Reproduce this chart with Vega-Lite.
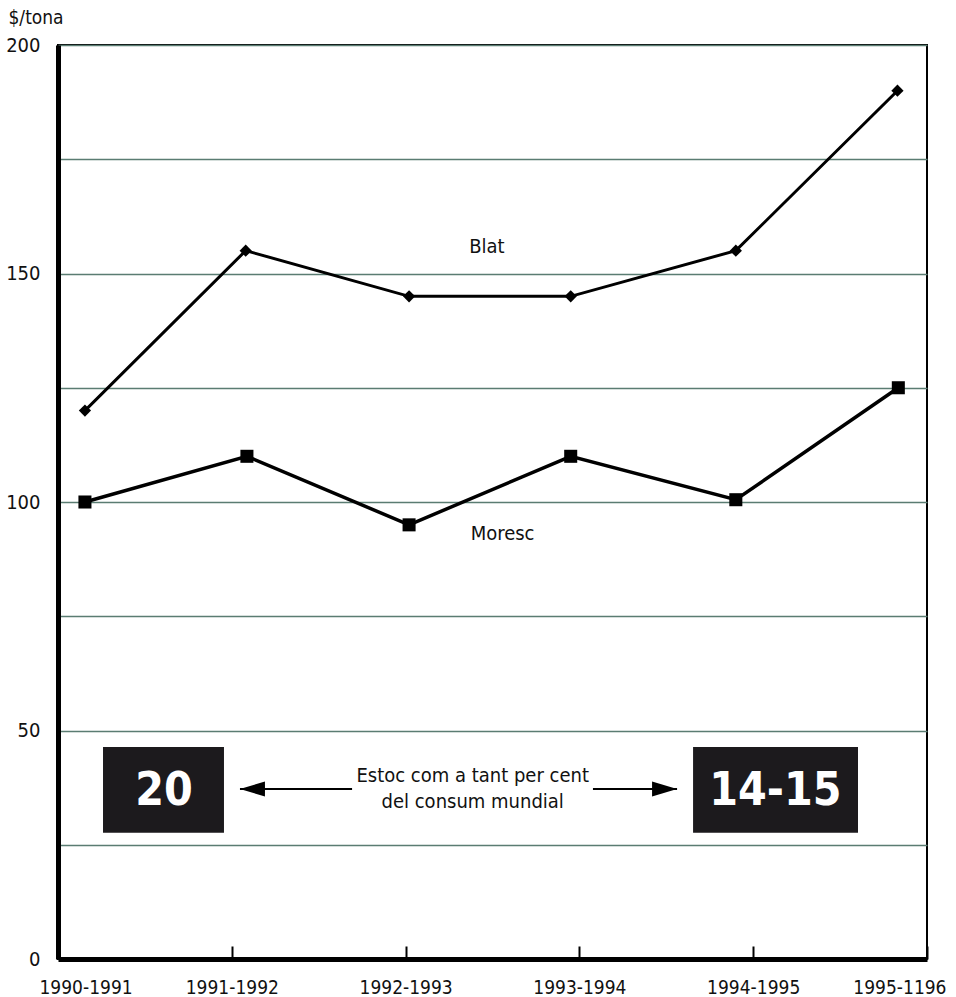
{
  "$schema": "https://vega.github.io/schema/vega-lite/v6.json",
  "width": 869,
  "height": 914,
  "autosize": "none",
  "padding": {"left": 58, "top": 45, "right": 29, "bottom": 38},
  "background": "white",
  "config": {
    "view": {"stroke": "black", "strokeWidth": 2},
    "font": "DejaVu Sans Condensed, Liberation Sans, sans-serif",
    "axis": {"labelFont": "DejaVu Sans Condensed, Liberation Sans, sans-serif", "titleFont": "DejaVu Sans Condensed, Liberation Sans, sans-serif", "labelColor": "#111", "titleColor": "#111"}
  },
  "datasets": {
    "series": [
      {"series": "Blat", "x": 0.155, "y": 120},
      {"series": "Blat", "x": 1.08, "y": 155},
      {"series": "Blat", "x": 2.02, "y": 145},
      {"series": "Blat", "x": 2.95, "y": 145},
      {"series": "Blat", "x": 3.90, "y": 155},
      {"series": "Blat", "x": 4.83, "y": 190},
      {"series": "Moresc", "x": 0.155, "y": 100},
      {"series": "Moresc", "x": 1.087, "y": 110},
      {"series": "Moresc", "x": 2.02, "y": 95},
      {"series": "Moresc", "x": 2.95, "y": 110},
      {"series": "Moresc", "x": 3.90, "y": 100.5},
      {"series": "Moresc", "x": 4.835, "y": 125}
    ],
    "labels": [
      {"label": "Blat", "x": 2.468, "y": 154.5},
      {"label": "Moresc", "x": 2.558, "y": 91.7}
    ],
    "boxes": [
      {"label": "20", "x1": 0.259, "x2": 0.955, "y1": 27.6, "y2": 46.4, "tx": 0.61, "ty": 33.8},
      {"label": "14-15", "x1": 3.654, "x2": 4.603, "y1": 27.6, "y2": 46.4, "tx": 4.128, "ty": 33.8}
    ],
    "note": [
      {"text": "Estoc com a tant per cent", "x": 2.386, "y": 38.7},
      {"text": "del consum mundial", "x": 2.386, "y": 33.0}
    ],
    "arrows": [
      {"dir": "left", "x1": 1.047, "x2": 1.692, "y": 37.2, "tip": 1.047},
      {"dir": "right", "x1": 3.078, "x2": 3.562, "y": 37.2, "tip": 3.562}
    ]
  },
  "layer": [
    {
      "data": {"name": "series"},
      "transform": [{"filter": "datum.series == 'Blat'"}],
      "mark": {"type": "line", "color": "black", "strokeWidth": 3},
      "encoding": {
        "x": {
          "field": "x", "type": "quantitative",
          "scale": {"domain": [0, 5], "nice": false, "zero": false},
          "axis": {
            "title": null,
            "values": [0, 1, 2, 3, 4, 5],
            "labelExpr": "['1990-1991','1991-1992','1992-1993','1993-1994','1994-1995','1995-1196'][datum.value]",
            "grid": false,
            "domain": true, "domainColor": "black", "domainWidth": 5,
            "ticks": true, "tickSize": -13, "tickWidth": 2, "tickColor": "black",
            "labelFontSize": 19, "labelPadding": 32, "labelFlush": true, "labelFlushOffset": 19,
            "labelBaseline": "top"
          }
        },
        "y": {
          "field": "y", "type": "quantitative",
          "scale": {"domain": [0, 200], "nice": false},
          "axis": {
            "title": "$/tona", "titleAngle": 0, "titleAlign": "left", "titleBaseline": "middle",
            "titleX": -50, "titleY": -28, "titleFontSize": 19, "titleFontWeight": "normal",
            "values": [0, 25, 50, 75, 100, 125, 150, 175, 200],
            "labelExpr": "datum.value % 50 == 0 ? datum.label : ''",
            "grid": true, "gridColor": "#5a7c72", "gridWidth": 1.5,
            "domain": true, "domainColor": "black", "domainWidth": 5,
            "ticks": false, "labelPadding": 18, "labelFontSize": 20
          }
        }
      }
    },
    {
      "data": {"name": "series"},
      "transform": [{"filter": "datum.series == 'Blat'"}],
      "mark": {"type": "point", "shape": "diamond", "filled": true, "color": "black", "size": 150, "opacity": 1},
      "encoding": {"x": {"field": "x", "type": "quantitative"}, "y": {"field": "y", "type": "quantitative"}}
    },
    {
      "data": {"name": "series"},
      "transform": [{"filter": "datum.series == 'Moresc'"}],
      "mark": {"type": "line", "color": "black", "strokeWidth": 3.5},
      "encoding": {"x": {"field": "x", "type": "quantitative"}, "y": {"field": "y", "type": "quantitative"}}
    },
    {
      "data": {"name": "series"},
      "transform": [{"filter": "datum.series == 'Moresc'"}],
      "mark": {"type": "point", "shape": "square", "filled": true, "color": "black", "size": 170, "opacity": 1},
      "encoding": {"x": {"field": "x", "type": "quantitative"}, "y": {"field": "y", "type": "quantitative"}}
    },
    {
      "data": {"name": "labels"},
      "mark": {"type": "text", "fontSize": 20, "align": "center", "baseline": "alphabetic", "color": "#111"},
      "encoding": {"x": {"field": "x", "type": "quantitative"}, "y": {"field": "y", "type": "quantitative"}, "text": {"field": "label"}}
    },
    {
      "data": {"name": "boxes"},
      "mark": {"type": "rect", "color": "#1c1a1d"},
      "encoding": {
        "x": {"field": "x1", "type": "quantitative"}, "x2": {"field": "x2"},
        "y": {"field": "y1", "type": "quantitative"}, "y2": {"field": "y2"}
      }
    },
    {
      "data": {"name": "boxes"},
      "mark": {"type": "text", "fontSize": 46, "fontWeight": "bold", "align": "center", "baseline": "alphabetic", "color": "white"},
      "encoding": {"x": {"field": "tx", "type": "quantitative"}, "y": {"field": "ty", "type": "quantitative"}, "text": {"field": "label"}}
    },
    {
      "data": {"name": "note"},
      "mark": {"type": "text", "fontSize": 20, "align": "center", "baseline": "alphabetic", "color": "#111"},
      "encoding": {"x": {"field": "x", "type": "quantitative"}, "y": {"field": "y", "type": "quantitative"}, "text": {"field": "text"}}
    },
    {
      "data": {"name": "arrows"},
      "mark": {"type": "rule", "color": "black", "strokeWidth": 2},
      "encoding": {
        "x": {"field": "x1", "type": "quantitative"}, "x2": {"field": "x2"},
        "y": {"field": "y", "type": "quantitative"}
      }
    },
    {
      "data": {"name": "arrows"},
      "transform": [{"filter": "datum.dir == 'left'"}],
      "mark": {"type": "point", "shape": "M0,0L2,-0.6L2,0.6Z", "filled": true, "color": "black", "size": 625, "opacity": 1},
      "encoding": {"x": {"field": "tip", "type": "quantitative"}, "y": {"field": "y", "type": "quantitative"}}
    },
    {
      "data": {"name": "arrows"},
      "transform": [{"filter": "datum.dir == 'right'"}],
      "mark": {"type": "point", "shape": "M0,0L-2,-0.6L-2,0.6Z", "filled": true, "color": "black", "size": 625, "opacity": 1},
      "encoding": {"x": {"field": "tip", "type": "quantitative"}, "y": {"field": "y", "type": "quantitative"}}
    }
  ]
}
